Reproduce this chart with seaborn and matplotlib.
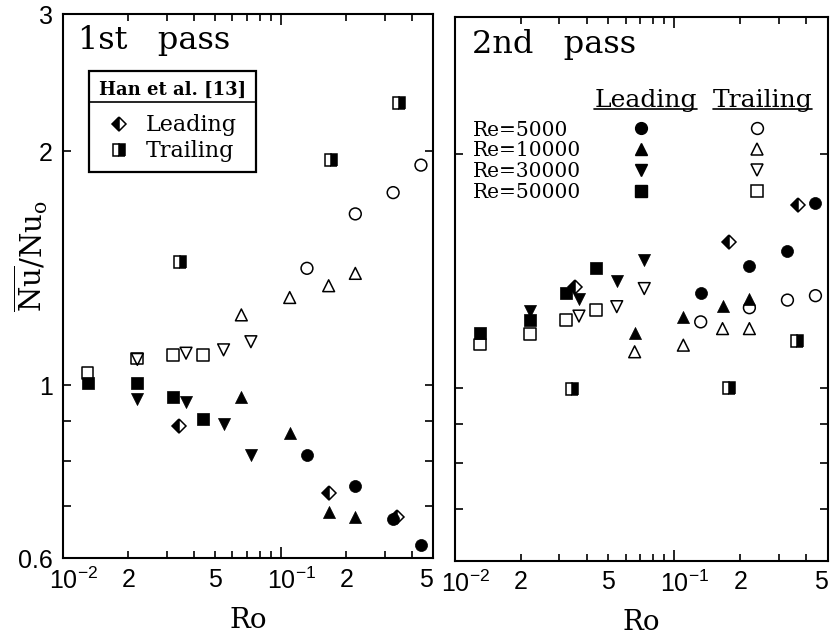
import numpy as np
import pandas as pd
import seaborn as sns
import matplotlib.pyplot as plt
from matplotlib.lines import Line2D
from matplotlib.ticker import FixedLocator, FixedFormatter, NullFormatter
from matplotlib.transforms import ScaledTranslation

sns.set_style("ticks")
plt.rcParams['font.family'] = ['Liberation Sans', 'DejaVu Sans']
plt.rcParams['mathtext.default'] = 'regular'
for k in ['text.color', 'axes.labelcolor', 'xtick.color', 'ytick.color', 'axes.edgecolor']:
    plt.rcParams[k] = 'black'
SERIF = ['DejaVu Serif']

reynolds = [5000, 10000, 30000, 50000]
ro_5000 = [0.132, 0.22, 0.328, 0.44]
ro_10000 = [0.066, 0.11, 0.166, 0.22]
ro_30000 = [0.022, 0.0368, 0.0547, 0.073]
ro_50000 = [0.013, 0.022, 0.032, 0.044]

# 1st pass, Nu/Nu0
lead1_5000 = [0.814, 0.743, 0.673, 0.623]
trail1_5000 = [1.414, 1.661, 1.769, 1.919]
lead1_10000 = [0.967, 0.868, 0.688, 0.677]
trail1_10000 = [1.232, 1.297, 1.343, 1.393]
lead1_30000 = [0.962, 0.953, 0.892, 0.814]
trail1_30000 = [1.080, 1.100, 1.111, 1.138]
lead1_50000 = [1.006, 1.006, 0.967, 0.905]
trail1_50000 = [1.038, 1.083, 1.094, 1.094]

# 2nd pass
lead2_5000 = [1.326, 1.434, 1.501, 1.730]
trail2_5000 = [1.216, 1.268, 1.297, 1.314]
lead2_10000 = [1.175, 1.235, 1.274, 1.303]
trail2_10000 = [1.113, 1.135, 1.192, 1.192]
lead2_30000 = [1.254, 1.303, 1.373, 1.459]
trail2_30000 = [np.nan, 1.237, 1.272, 1.342]
lead2_50000 = [1.175, 1.221, 1.323, 1.428]
trail2_50000 = [1.137, 1.172, 1.222, 1.259]

# Han et al. [13]
han1_ro_lead = [0.034, 0.167, 0.343]
han1_lead = [0.887, 0.728, 0.678]
han1_ro_trail = [0.0345, 0.171, 0.349]
han1_trail = [1.439, 1.949, 2.304]
han2_ro_lead = [0.0353, 0.178, 0.367]
han2_lead = [1.349, 1.541, 1.718]
han2_ro_trail = [0.0343, 0.178, 0.363]
han2_trail = [0.997, 1.0, 1.148]

ro = {5000: ro_5000, 10000: ro_10000, 30000: ro_30000, 50000: ro_50000}
series = {
    (1, 5000): (lead1_5000, trail1_5000), (1, 10000): (lead1_10000, trail1_10000),
    (1, 30000): (lead1_30000, trail1_30000), (1, 50000): (lead1_50000, trail1_50000),
    (2, 5000): (lead2_5000, trail2_5000), (2, 10000): (lead2_10000, trail2_10000),
    (2, 30000): (lead2_30000, trail2_30000), (2, 50000): (lead2_50000, trail2_50000),
}
rows = []
for (p, re), (lead, trail) in series.items():
    for x, yl, yt in zip(ro[re], lead, trail):
        rows.append((p, re, 'Leading', x, yl))
        rows.append((p, re, 'Trailing', x, yt))
df = pd.DataFrame(rows, columns=['pass', 'Re', 'side', 'Ro', 'Nu']).dropna()

markers = {5000: 'o', 10000: '^', 30000: 'v', 50000: 's'}
han = {1: (han1_ro_lead, han1_lead, han1_ro_trail, han1_trail),
       2: (han2_ro_lead, han2_lead, han2_ro_trail, han2_trail)}

fig = plt.figure(figsize=(8.36, 6.4), dpi=100)
ax1 = fig.add_axes([0.075, 0.128, 0.443, 0.85])
ax2 = fig.add_axes([0.544, 0.124, 0.446, 0.85])

half_kw = dict(linestyle='', color='black', markerfacecolor='black',
               markerfacecoloralt='white', markeredgecolor='black', markeredgewidth=1.1)

for ax, p in [(ax1, 1), (ax2, 2)]:
    ax.set_xscale('log')
    ax.set_yscale('log')
    ax.set_xlim(0.01, 0.5)
    ax.set_ylim(0.6, 3)

    hx_l, hy_l, hx_t, hy_t = han[p]
    sns.lineplot(x=hx_l, y=hy_l, ax=ax, estimator=None, sort=False, marker='D',
                 fillstyle='left', markersize=7.3, zorder=2, **half_kw)
    sns.lineplot(x=hx_t, y=hy_t, ax=ax, estimator=None, sort=False, marker='s',
                 fillstyle='right', markersize=8, zorder=2, **half_kw)

    for side in ['Trailing', 'Leading']:
        for re in reynolds:
            sub = df[(df['pass'] == p) & (df['Re'] == re) & (df['side'] == side)]
            if side == 'Leading':
                sns.scatterplot(data=sub, x='Ro', y='Nu', marker=markers[re], s=75,
                                facecolor='black', edgecolor='black', linewidth=0.5,
                                ax=ax, zorder=4)
            else:
                sns.scatterplot(data=sub, x='Ro', y='Nu', marker=markers[re], s=72,
                                facecolor='none', edgecolor='black', linewidth=1.1,
                                ax=ax, zorder=3)

    ax.xaxis.set_major_locator(FixedLocator([0.01, 0.1]))
    ax.xaxis.set_major_formatter(FixedFormatter(['$10^{-2}$', '$10^{-1}$']))
    ax.xaxis.set_minor_locator(FixedLocator([0.02, 0.03, 0.04, 0.05, 0.06, 0.07, 0.08, 0.09,
                                             0.2, 0.3, 0.4, 0.5]))
    ax.xaxis.set_minor_formatter(FixedFormatter(['2', '', '', '5', '', '', '', '',
                                                 '2', '', '', '5']))
    ax.yaxis.set_major_locator(FixedLocator([0.6, 1, 2, 3]))
    ax.yaxis.set_major_formatter(FixedFormatter(['0.6', '1', '2', '3']))
    ax.yaxis.set_minor_locator(FixedLocator([0.7, 0.8, 0.9]))
    ax.yaxis.set_minor_formatter(NullFormatter())
    ax.tick_params(which='both', direction='in', top=True, right=True, labelsize=18,
                   width=1.2, pad=7)
    ax.tick_params(axis='x', which='major', length=8)
    ax.tick_params(axis='x', which='minor', length=5)
    ax.tick_params(axis='y', which='both', length=6)
    for s in ax.spines.values():
        s.set_linewidth(1.5)
    ax.set_xlabel('Ro', family=SERIF, fontsize=20, labelpad=9)
    ax.set_ylabel('')

ax2.tick_params(labelleft=False)
ax1.set_ylabel(r'$\overline{Nu}/Nu_o$', family=SERIF, fontsize=21)
ax1.yaxis.set_label_coords(-0.035, 0.555)

# "10" of the decade labels sits over its tick, exponent to the right;
# the last "5" ends at the frame edge
shift = ScaledTranslation(-0.14, 0, fig.dpi_scale_trans)
for ax in [ax1, ax2]:
    for lab in ax.get_xticklabels():
        lab.set_ha('left')
        lab.set_transform(lab.get_transform() + shift)
    ax.get_xticklabels(minor=True)[-1].set_ha('right')

ax1.text(0.041, 0.936, '1st   pass', transform=ax1.transAxes, family=SERIF,
         fontsize=23, va='baseline')
ax2.text(0.046, 0.933, '2nd   pass', transform=ax2.transAxes, family=SERIF,
         fontsize=23, va='baseline')

# Han et al. legend (left panel)
han_handles = [Line2D([], [], marker='D', fillstyle='left', markersize=7.3, **half_kw),
               Line2D([], [], marker='s', fillstyle='right', markersize=8, **half_kw)]
leg1 = ax1.legend(han_handles, ['Leading', 'Trailing'], title='Han et al. [13]',
                  loc='upper left', bbox_to_anchor=(0.071, 0.895), borderaxespad=0,
                  fancybox=False, edgecolor='black', framealpha=1, numpoints=1,
                  prop={'family': SERIF, 'size': 16},
                  title_fontproperties={'family': SERIF, 'size': 13, 'weight': 'bold'},
                  handlelength=1.0, handletextpad=0.7, labelspacing=0.18, borderpad=0.45)
leg1.get_frame().set_linewidth(1.6)
leg1._legend_box.sep = 11

# Re legend (right panel)
blank = [Line2D([], [], linestyle='', marker='') for _ in reynolds]
filled = [Line2D([], [], linestyle='', marker=markers[re], markersize=8.5, color='black')
          for re in reynolds]
opened = [Line2D([], [], linestyle='', marker=markers[re], markersize=8.5,
                 markerfacecolor='none', markeredgecolor='black', markeredgewidth=1.1)
          for re in reynolds]
labels = [f'Re={re}' for re in reynolds] + [''] * 8
leg2 = ax2.legend(blank + filled + opened, labels, ncol=3, loc='upper left',
                  bbox_to_anchor=(-0.129, 0.809), borderaxespad=0, borderpad=0,
                  frameon=False, prop={'family': SERIF, 'size': 14.5},
                  handlelength=1.0, handletextpad=2.28, columnspacing=2.49,
                  labelspacing=0.085)

h_lead = ax2.text(0.512, 0.834, 'Leading', transform=ax2.transAxes, family=SERIF,
                  fontsize=18, ha='center', va='baseline')
h_trail = ax2.text(0.825, 0.834, 'Trailing', transform=ax2.transAxes, family=SERIF,
                   fontsize=18, ha='center', va='baseline')

fig.canvas.draw()
r = fig.canvas.get_renderer()
inv = fig.transFigure.inverted()
for t in [h_lead, h_trail]:
    bb = t.get_window_extent(r)
    (x0, y0), (x1, _) = inv.transform([(bb.x0, bb.y0 + 3), (bb.x1, bb.y0 + 3)])
    fig.add_artist(Line2D([x0, x1], [y0, y0], color='black', lw=1.2))

fb = leg1.get_frame().get_window_extent(r)
ysep = fb.y1 - 31
(x0, y0), (x1, _) = inv.transform([(fb.x0, ysep), (fb.x1, ysep)])
fig.add_artist(Line2D([x0, x1], [y0, y0], color='black', lw=1.2))

fig.savefig('out.png', dpi=100)
